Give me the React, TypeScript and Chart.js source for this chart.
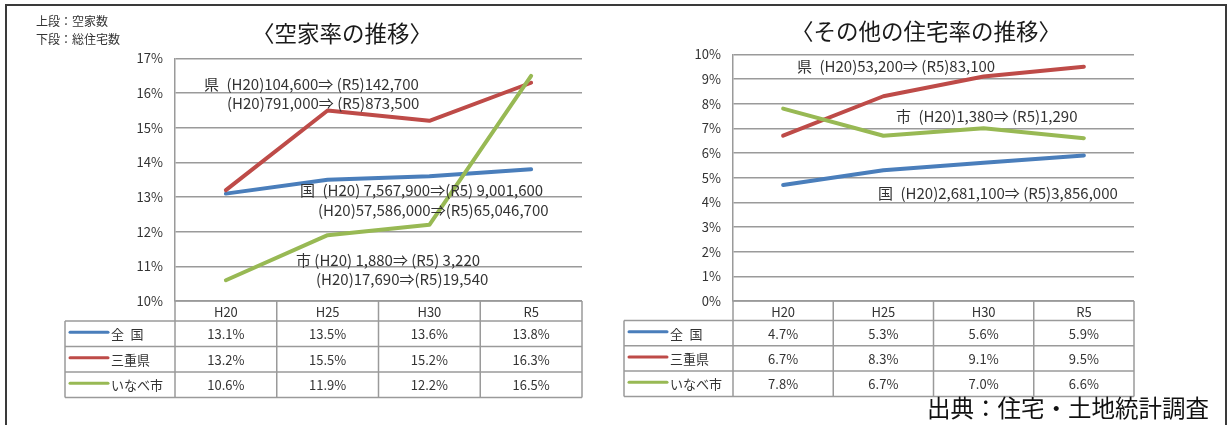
import React, { useEffect, useRef } from "react";
import { Chart, registerables } from "chart.js";

Chart.register(...registerables);

// ---------- data ----------
const periods = ["H20", "H25", "H30", "R5"];
const seriesNames = ["全 国", "三重県", "いなべ市"];

const vacantNational = [13.1, 13.5, 13.6, 13.8];
const vacantMie = [13.2, 15.5, 15.2, 16.3];
const vacantInabe = [10.6, 11.9, 12.2, 16.5];

const otherNational = [4.7, 5.3, 5.6, 5.9];
const otherMie = [6.7, 8.3, 9.1, 9.5];
const otherInabe = [7.8, 6.7, 7.0, 6.6];

const vacantTicks = [10, 11, 12, 13, 14, 15, 16, 17];
const otherTicks = [0, 1, 2, 3, 4, 5, 6, 7, 8, 9, 10];

const vacantTitle = "〈空家率の推移〉";
const otherTitle = "〈その他の住宅率の推移〉";
const cornerNotes = ["上段：空家数", "下段：総住宅数"];
const sourceNote = "出典：住宅・土地統計調査";

const vacantNotes = [
  "県  (H20)104,600⇒ (R5)142,700",
  "(H20)791,000⇒ (R5)873,500",
  "国  (H20) 7,567,900⇒(R5) 9,001,600",
  "(H20)57,586,000⇒(R5)65,046,700",
  "市 (H20) 1,880⇒ (R5) 3,220",
  "(H20)17,690⇒(R5)19,540",
];
const otherNotes = [
  "県  (H20)53,200⇒ (R5)83,100",
  "市  (H20)1,380⇒ (R5)1,290",
  "国  (H20)2,681,100⇒ (R5)3,856,000",
];

// ---------- styles ----------
const FONT = '"Noto Sans CJK JP", "Noto Sans", sans-serif';
const BLUE = "#4a7ebb";
const RED = "#be4b48";
const GREEN = "#98b954";
const GRID = "#9a9a9a";
const TEXT = "#333333";
const colors = [BLUE, RED, GREEN];

// note positions (canvas px): [x, y]
const vacantNotePos = [
  [204, 84],
  [227, 103],
  [300, 190],
  [318, 210],
  [296, 260],
  [316, 279],
];
const otherNotePos = [
  [181, 66],
  [280, 116],
  [262, 193],
];

type PanelCfg = {
  title: string;
  titleX: number;
  titleY: number;
  notes: string[];
  notePos: number[][];
  legendLeft: number;
  headerH: number;
  rowH: number;
  extra?: (ctx: CanvasRenderingContext2D) => void;
};

const panelPlugin = {
  id: "panel",
  afterDraw(chart: any, _args: any, opts: PanelCfg) {
    const { ctx, chartArea } = chart;
    const xs = chart.scales.x;
    const n = periods.length;
    const colW = (chartArea.right - chartArea.left) / n;
    const top = chartArea.bottom;
    const hy = top + opts.headerH;
    const bottom = hy + opts.rowH * 3;
    ctx.save();

    // table grid
    ctx.strokeStyle = GRID;
    ctx.lineWidth = 1.5;
    const seg = (x1: number, y1: number, x2: number, y2: number) => {
      ctx.beginPath();
      ctx.moveTo(x1, y1);
      ctx.lineTo(x2, y2);
      ctx.stroke();
    };
    seg(chartArea.left, top, chartArea.right, top);
    for (let r = 0; r <= 3; r++) {
      const y = hy + r * opts.rowH;
      seg(opts.legendLeft, y, chartArea.right, y);
    }
    seg(opts.legendLeft, hy, opts.legendLeft, bottom);
    for (let c = 0; c <= n; c++) {
      const xx = chartArea.left + c * colW;
      seg(xx, top, xx, bottom);
    }

    // header
    ctx.fillStyle = TEXT;
    ctx.font = `13px ${FONT}`;
    ctx.textAlign = "center";
    ctx.textBaseline = "middle";
    periods.forEach((p, i) => ctx.fillText(p, xs.getPixelForValue(i), top + opts.headerH / 2 + 1));

    // rows
    chart.data.datasets.forEach((ds: any, r: number) => {
      const yc = hy + r * opts.rowH + opts.rowH / 2 + 0.5;
      ctx.strokeStyle = ds.borderColor;
      ctx.lineWidth = 3;
      ctx.lineCap = "round";
      seg(opts.legendLeft + 5, yc - 2, opts.legendLeft + 43, yc - 2);
      ctx.fillStyle = TEXT;
      ctx.textAlign = "left";
      ctx.font = `13px ${FONT}`;
      ctx.fillText(String(ds.label).replace(" ", "\u2002"), opts.legendLeft + 46, yc);
      ctx.textAlign = "center";
      ds.data.forEach((v: number, i: number) => {
        ctx.fillText(v.toFixed(1) + "%", xs.getPixelForValue(i), yc);
      });
    });

    // annotations
    ctx.fillStyle = TEXT;
    ctx.textAlign = "left";
    ctx.textBaseline = "middle";
    ctx.font = `15px ${FONT}`;
    opts.notes.forEach((t, i) => {
      const p = opts.notePos[i];
      ctx.fillText(t.replace("  ", "\u2002"), p[0], p[1]);
    });

    // title
    ctx.fillStyle = "#1a1a1a";
    ctx.textAlign = "center";
    ctx.font = `22.5px ${FONT}`;
    ctx.fillText(opts.title, opts.titleX, opts.titleY);

    if (opts.extra) opts.extra(ctx);
    ctx.restore();
  },
};

function makeConfig(
  values: number[][],
  ticks: number[],
  axisWidth: number,
  padTop: number,
  padRight: number,
  panel: PanelCfg
): any {
  return {
    type: "line",
    data: {
      labels: periods,
      datasets: values.map((d, i) => ({
        label: seriesNames[i],
        data: d,
        borderColor: colors[i],
        backgroundColor: colors[i],
        borderWidth: 4,
        pointRadius: 0,
        tension: 0,
        borderCapStyle: "round",
        borderJoinStyle: "round",
        order: 2 - i,
      })),
    },
    options: {
      animation: false,
      responsive: false,
      maintainAspectRatio: false,
      layout: { padding: { left: 0, top: padTop, right: padRight, bottom: 124 } },
      plugins: {
        legend: { display: false },
        tooltip: { enabled: false },
        title: { display: false },
        panel,
      },
      scales: {
        x: { type: "category", offset: true, display: false },
        y: {
          min: ticks[0],
          max: ticks[ticks.length - 1],
          afterFit: (s: any) => {
            s.width = axisWidth;
          },
          afterBuildTicks: (s: any) => {
            s.ticks = ticks.map((v) => ({ value: v }));
          },
          ticks: {
            padding: 12,
            color: TEXT,
            font: { family: FONT, size: 13 },
            callback: (v: any) => `${v}%`,
          },
          grid: { color: GRID, lineWidth: 1.5, drawTicks: false },
          border: { display: true, color: GRID, width: 1.5 },
        },
      },
    },
    plugins: [panelPlugin],
  };
}

export default function App() {
  const leftRef = useRef<HTMLCanvasElement>(null);
  const rightRef = useRef<HTMLCanvasElement>(null);

  useEffect(() => {
    const left = new Chart(
      leftRef.current as HTMLCanvasElement,
      makeConfig([vacantNational, vacantMie, vacantInabe], vacantTicks, 175, 58.5, 34, {
        title: vacantTitle,
        titleX: 342,
        titleY: 33,
        notes: vacantNotes,
        notePos: vacantNotePos,
        legendLeft: 65,
        headerH: 20,
        rowH: 25.5,
        extra: (ctx) => {
          ctx.fillStyle = TEXT;
          ctx.textAlign = "left";
          ctx.textBaseline = "middle";
          ctx.font = `12px ${FONT}`;
          ctx.fillText(cornerNotes[0], 36, 21);
          ctx.fillText(cornerNotes[1], 36, 39);
        },
      })
    );
    const right = new Chart(
      rightRef.current as HTMLCanvasElement,
      makeConfig([otherNational, otherMie, otherInabe], otherTicks, 117, 54.3, 98, {
        title: otherTitle,
        titleX: 310,
        titleY: 31,
        notes: otherNotes,
        notePos: otherNotePos,
        legendLeft: 8,
        headerH: 19.5,
        rowH: 25.3,
        extra: (ctx) => {
          ctx.fillStyle = "#111";
          ctx.textAlign = "right";
          ctx.textBaseline = "middle";
          ctx.font = `23.5px ${FONT}`;
          ctx.fillText(sourceNote, 593, 408);
        },
      })
    );
    return () => {
      left.destroy();
      right.destroy();
    };
  }, []);

  return (
    <div
      style={{
        position: "absolute",
        left: 0,
        top: 0,
        width: 1232,
        height: 425,
        background: "#fff",
        overflow: "hidden",
      }}
    >
      <canvas
        ref={leftRef}
        width={616}
        height={425}
        style={{ position: "absolute", left: 0, top: 0, width: 616, height: 425 }}
      />
      <canvas
        ref={rightRef}
        width={616}
        height={425}
        style={{ position: "absolute", left: 616, top: 0, width: 616, height: 425 }}
      />
      <div
        style={{
          position: "absolute",
          left: 5,
          top: 4,
          width: 1222,
          height: 440,
          border: "2px solid #3a3a3a",
          boxSizing: "border-box",
          pointerEvents: "none",
        }}
      />
    </div>
  );
}
